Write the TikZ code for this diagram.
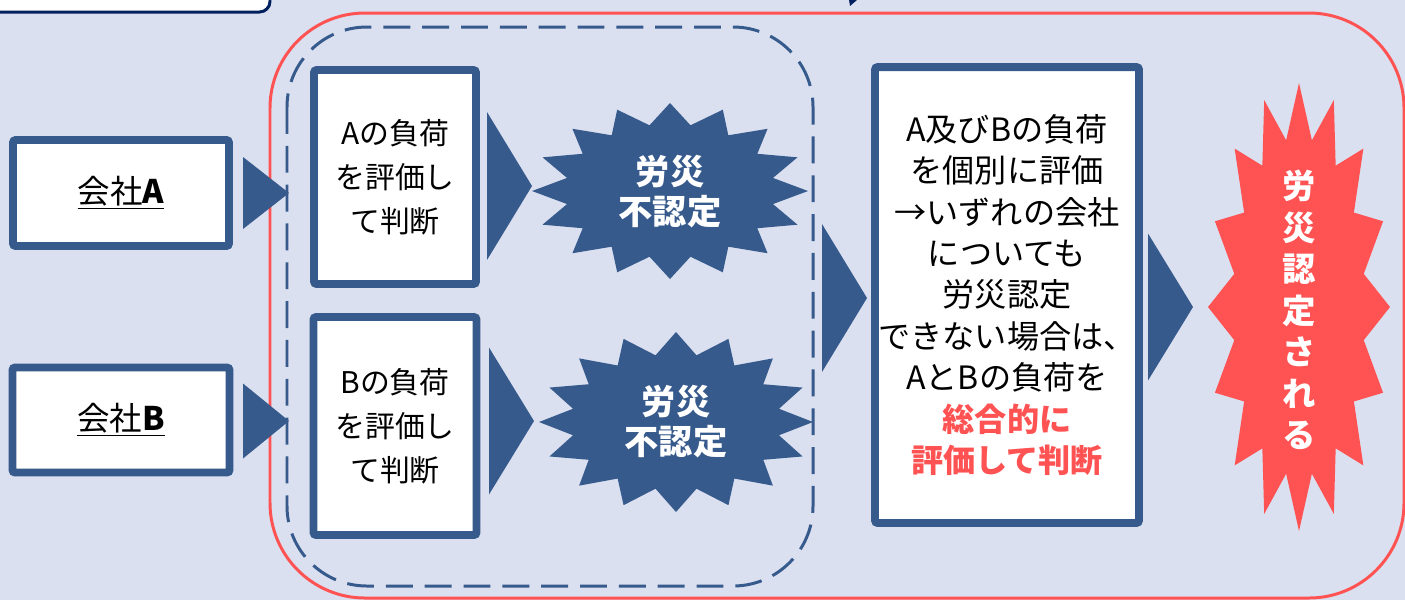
\documentclass[tikz,border=0pt]{standalone}
\usepackage{fontspec}
\setmainfont{Noto Sans CJK JP}
\usetikzlibrary{shapes.geometric}
\definecolor{bgblue}{HTML}{DAE0F0}
\definecolor{navy}{HTML}{375A8C}
\definecolor{darknavy}{HTML}{002060}
\definecolor{alertred}{HTML}{FF5353}
\tikzset{
  box/.style={draw=navy,fill=white,line width=4.5pt,rounded corners=1.5pt,align=center,inner sep=0pt,font=\fontsize{17}{25}\selectfont},
  tri/.style={isosceles triangle,isosceles triangle stretches,fill=navy,inner sep=0pt,outer sep=0pt,anchor=apex},
  burst/.style={text=white,align=center,font=\bfseries\fontsize{19.5}{22.8}\selectfont}
}

\begin{document}
\begin{tikzpicture}[x=0.02cm,y=-0.02cm]
			\fill[bgblue] (0,0) rectangle (1405,600);
			\useasboundingbox (0,0) rectangle (1405,600);
			\draw[darknavy,fill=white,line width=1.7pt,rounded corners=6pt] (-20,-30) rectangle (270,12);
			\fill[darknavy] (849,0) -- (857,0) -- (850,6) -- cycle;
			\draw[alertred,line width=1.7pt,rounded corners=1.9cm] (270,13) rectangle (1404,598);
			\draw[navy,line width=1.7pt,dash pattern=on 15.3pt off 6.8pt,rounded corners=1.6cm] (287,27) rectangle (813,586);
			\node[box,minimum width=4.32cm,minimum height=2.12cm,font=\fontsize{18.5}{25}\selectfont] (coA) at (121,193) {\underline{会社\textbf{A}}};
			\node[box,minimum width=4.34cm,minimum height=2.10cm,font=\fontsize{18.5}{25}\selectfont] (coB) at (121,420) {\underline{会社\textbf{B}}};
			\node[box,minimum width=3.24cm,minimum height=4.28cm] (evA) at (395,177) {Aの負荷\\を評価し\\て判断};
			\node[box,minimum width=3.26cm,minimum height=4.36cm] (evB) at (395,426) {Bの負荷\\を評価し\\て判断};
			\node[box,minimum width=5.28cm,minimum height=9.12cm,font=\fontsize{18.3}{23.6}\selectfont] (sum) at (1007,295)
				{A及びBの負荷\\を個別に評価\\→いずれの会社\\についても\\労災認定\\できない場合は、\\AとBの負荷を\\\textcolor{alertred}{\textbf{総合的に}}\\\textcolor{alertred}{\textbf{評価して判断}}};
			\node[tri,minimum height=0.92cm,minimum width=1.44cm] (tA) at (289,193) {};
			\node[tri,minimum height=0.92cm,minimum width=1.50cm] (tB) at (289,421) {};
			\node[tri,minimum height=0.90cm,minimum width=2.96cm] (tEA) at (532,186) {};
			\node[tri,minimum height=0.90cm,minimum width=2.94cm] (tEB) at (534,421) {};
			\node[tri,minimum height=0.90cm,minimum width=2.96cm] (tM) at (867,298) {};
			\node[tri,minimum height=0.90cm,minimum width=2.94cm] (tR) at (1193,307) {};
			\fill[navy] plot[samples at={0,...,31}] ({670+(isodd(\x) ? 105 : 138)*cos(90+11.25*\x)},{191+(isodd(\x) ? 67 : 88)*sin(90+11.25*\x)}) -- cycle;
			\fill[navy] plot[samples at={0,...,31}] ({676+(isodd(\x) ? 105 : 137)*cos(90+11.25*\x)},{422+(isodd(\x) ? 68 : 90)*sin(90+11.25*\x)}) -- cycle;
			\fill[alertred] plot[samples at={0,...,31}] ({1299+(isodd(\x) ? 66 : 91)*cos(90+11.25*\x)},{307+(isodd(\x) ? 170 : 224)*sin(90+11.25*\x)}) -- cycle;
			\node[burst] (nA) at (670,192) {労災\\不認定};
			\node[burst] (nB) at (676,422) {労災\\不認定};
			\node[burst,font=\bfseries\fontsize{19}{23.6}\selectfont] (ok) at (1299,310) {労\\災\\認\\定\\さ\\れ\\る};
		\end{tikzpicture}
\end{document}
